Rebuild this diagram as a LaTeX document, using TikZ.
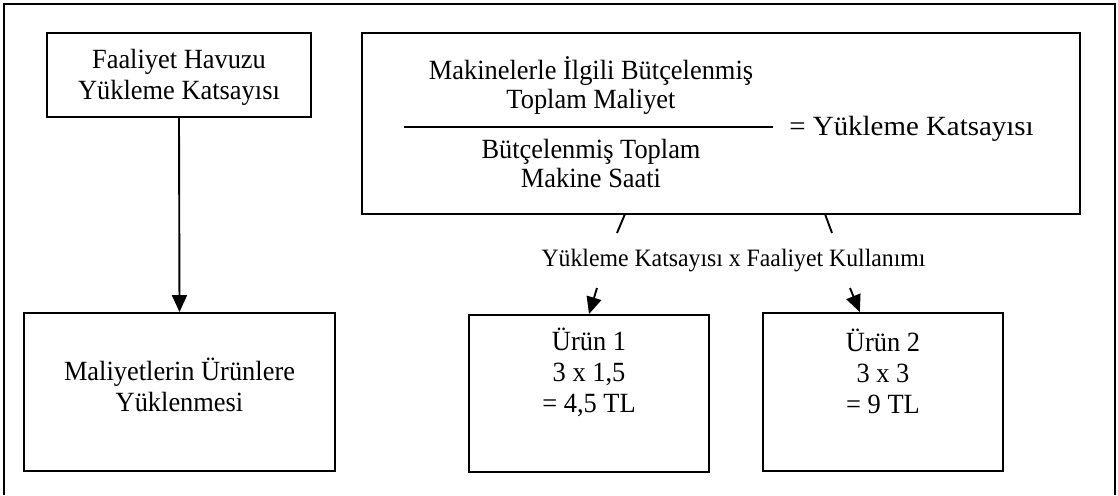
\documentclass[tikz,border=0pt]{standalone}
\usepackage{fontspec}
\setmainfont{Liberation Serif}
\newfontfamily\bodyfont[FakeStretch=0.95]{Liberation Serif}
\newfontfamily\widefont[FakeStretch=1.04]{Liberation Serif}
\usetikzlibrary{arrows.meta,calc}
\begin{document}
\begin{tikzpicture}[x=1pt,y=-1pt,
  box/.style={draw,line width=1.9pt,inner sep=0pt},
  txt/.style={align=center,font=\bodyfont\fontsize{27.8}{31}\selectfont,inner sep=0pt},
  lbl/.style={font=\bodyfont\fontsize{25}{28}\selectfont,inner sep=0pt},
  link/.style={line width=1.9pt},
  arr/.style={link,-{Triangle[length=17pt,width=15pt]}}]
\useasboundingbox (0,0) rectangle (1118,495);

% outer frame, open at the bottom
\draw[link] (4,495) -- (4,4) -- (1115,4) -- (1115,495);

% left column
\node[box,minimum width=264pt,minimum height=84pt] (havuz) at (179,75) {};
\node[txt] (havuzt) at (179,77.5) {Faaliyet Havuzu\\Yükleme Katsayısı};
\node[box,minimum width=311pt,minimum height=158pt] (yukleme) at (179.5,392) {};
\node[txt] (yuklemet) at (179.5,384.5) {Maliyetlerin Ürünlere\\Yüklenmesi};
\draw[arr] (havuz.south) -- (yukleme.north);

% formula box
\node[box,minimum width=718pt,minimum height=181pt] (formul) at (721,123.5) {};
\node[txt,anchor=base] (pay1) at (591,79) {Makinelerle İlgili Bütçelenmiş};
\node[txt,anchor=base] (pay2) at (591,108) {Toplam Maliyet};
\draw[link] (404,127) -- (773,127);
\node[txt,anchor=base] (payda1) at (591,158) {Bütçelenmiş Toplam};
\node[txt,anchor=base] (payda2) at (591,187) {Makine Saati};
\node[anchor=base,inner sep=0pt,font=\widefont\fontsize{27.8}{31}\selectfont] (sonuc) at (911.5,135.5) {= Yükleme Katsayısı};

% product boxes
\node[box,minimum width=240pt,minimum height=157pt] (urun1) at (589,393.5) {};
\node[txt] (urun1t) at (589,372.5) {Ürün 1\\3 x 1,5\\= 4,5 TL};
\node[box,minimum width=240pt,minimum height=158pt] (urun2) at (883,392) {};
\node[txt] (urun2t) at (883,371) {Ürün 2\\3 x 3\\= 9 TL};

% allocation rule between the formula and the products
\node[lbl] (kural) at (733.5,260.5) {Yükleme Katsayısı x Faaliyet Kullanımı};
\coordinate (k1a) at (625,214);
\coordinate (k1b) at (617,233);
\coordinate (k2a) at (825,214);
\coordinate (k2b) at (832,233);
\coordinate (o1) at (597,288);
\coordinate (o2) at (850,288);
\draw[link] (k1a) -- (k1b);
\draw[link] (k2a) -- (k2b);
\draw[arr] (o1) -- (urun1.north);
\draw[arr] (o2) -- ($(urun2.north west)!0.404!(urun2.north east)$);
\end{tikzpicture}
\end{document}
